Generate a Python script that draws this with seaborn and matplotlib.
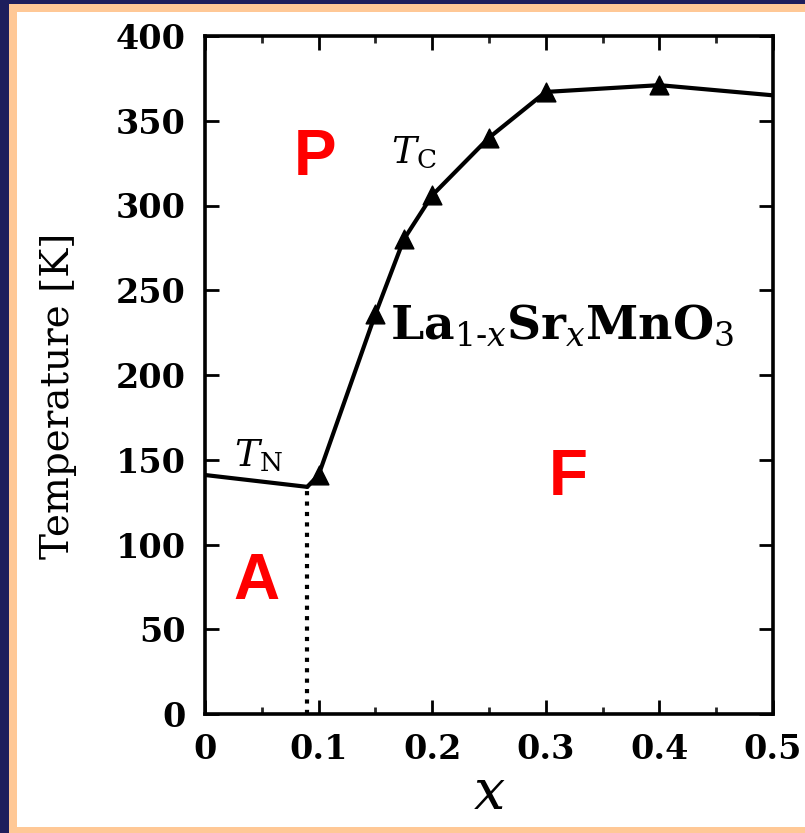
import numpy as np
import matplotlib.pyplot as plt
from matplotlib.patches import Rectangle
from matplotlib.ticker import MultipleLocator
import seaborn as sns

# Neel line (A phase boundary)
tn_x = [0.0, 0.09]
tn_T = [141, 134]

# Curie line
tc_x = [0.09, 0.1, 0.15, 0.175, 0.2, 0.25, 0.3, 0.4, 0.5]
tc_T = [134, 141, 236, 280, 306, 340, 367, 371, 365]
# measured points (triangles)
pt_x = [0.1, 0.15, 0.175, 0.2, 0.25, 0.3, 0.4]
pt_T = [141, 236, 280, 306, 340, 367, 371]

# dotted A / F boundary
bd_x = [0.09, 0.09]
bd_T = [0, 134]

x_ticks = [0, 0.1, 0.2, 0.3, 0.4, 0.5]
x_labels = ["0", "0.1", "0.2", "0.3", "0.4", "0.5"]
y_ticks = [0, 50, 100, 150, 200, 250, 300, 350, 400]

sns.set_theme(style="ticks")
plt.rcParams["font.family"] = ["DejaVu Serif"]
plt.rcParams["mathtext.fontset"] = "dejavuserif"
plt.rcParams["text.color"] = "black"
plt.rcParams["axes.labelcolor"] = "black"

fig = plt.figure(figsize=(8.05, 8.33), dpi=100)
fig.patch.set_facecolor("#1e1e5c")
# peach frame and white page behind the plot
fig.patches.append(Rectangle((9 / 805, 0), 1, 1 - 4 / 833, transform=fig.transFigure,
                             facecolor="#ffc896", edgecolor="none", zorder=-3))
fig.patches.append(Rectangle((17 / 805, 6 / 833), 1, 1 - 18 / 833, transform=fig.transFigure,
                             facecolor="white", edgecolor="none", zorder=-2))

ax = fig.add_axes([205 / 805, 1 - 714 / 833, 568 / 805, 678 / 833])
ax.set_facecolor("none")

sns.lineplot(x=tn_x, y=tn_T, ax=ax, color="black", linewidth=3, sort=False, estimator=None)
sns.lineplot(x=tc_x, y=tc_T, ax=ax, color="black", linewidth=3, sort=False, estimator=None)
sns.scatterplot(x=pt_x, y=pt_T, ax=ax, marker="^", s=180, color="black", edgecolor="black", zorder=5)
ax.plot(bd_x, bd_T, color="black", linewidth=3, linestyle=(0, (1, 1.5)))

ax.set_xlim(0, 0.5)
ax.set_ylim(0, 400)
ax.set_xticks(x_ticks)
ax.set_xticklabels(x_labels)
ax.set_yticks(y_ticks)
ax.xaxis.set_minor_locator(MultipleLocator(0.05))
ax.tick_params(axis="both", which="major", direction="in", length=10, width=2,
               top=True, right=True, labelsize=24, color="black", labelcolor="black")
ax.tick_params(axis="x", which="minor", direction="in", length=5, width=2, top=True)
ax.tick_params(axis="x", which="major", pad=14)
ax.tick_params(axis="y", which="major", pad=14)
for lab in ax.get_xticklabels() + ax.get_yticklabels():
    lab.set_fontweight("bold")
for sp in ax.spines.values():
    sp.set_linewidth(2.6)
    sp.set_color("black")

ax.set_xlabel(r"$x$", fontsize=40, labelpad=0)
ax.set_ylabel("Temperature [K]", fontsize=28)
ax.yaxis.set_label_coords(-0.225, 0.47)

ax.text(0.047, 152, r"$T_{\mathrm{N}}$", fontsize=27, ha="center", va="center")
ax.text(0.184, 331, r"$T_{\mathrm{C}}$", fontsize=27, ha="center", va="center")
ax.text(0.163, 229, r"La$_{1\text{-}x}$Sr$_x$MnO$_3$", fontsize=34, fontweight="bold",
        ha="left", va="center")

red = dict(color="#ff0000", fontsize=46, fontweight="bold", family="Liberation Sans",
           ha="center", va="center")
ax.text(0.097, 328, "P", **red)
ax.text(0.320, 139, "F", **red)
ax.text(0.045, 78, "A", **red)

fig.savefig("out.png", dpi=100, facecolor=fig.get_facecolor())
